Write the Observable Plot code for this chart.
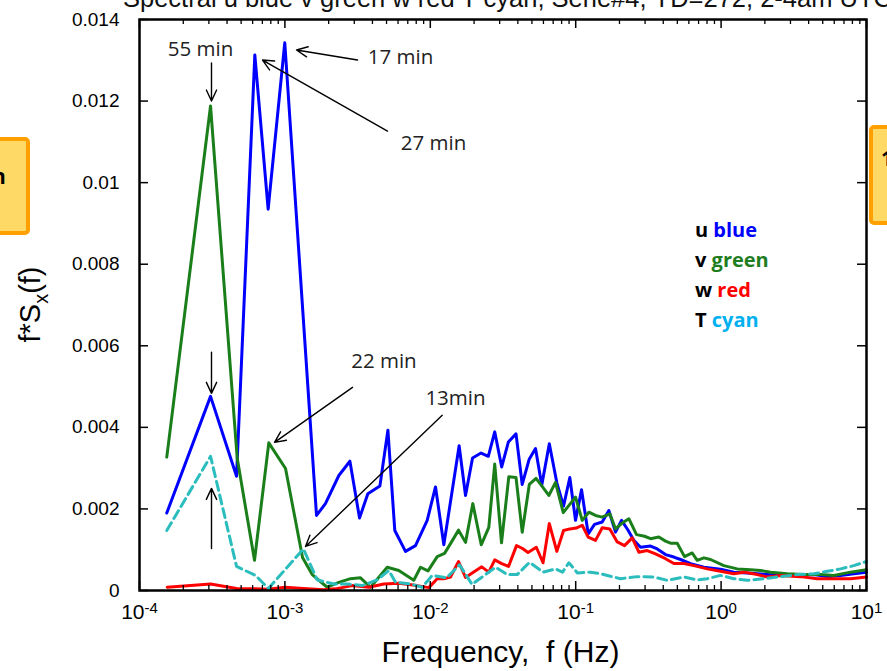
<!DOCTYPE html>
<html><head><meta charset="utf-8">
<script src="https://cdn.jsdelivr.net/npm/d3@7"></script>
<script src="https://cdn.jsdelivr.net/npm/@observablehq/plot@0.6"></script>
<style>
body{margin:0;background:#fff;}
#wrap{position:relative;width:887px;height:671px;overflow:hidden;background:#fff;}
.box{position:absolute;background:#FFD966;border:4px solid #FFA000;border-radius:5px;box-sizing:border-box;}
.boxtxt{position:absolute;font-family:'Open Sans',sans-serif;font-weight:bold;font-size:21px;color:#000;}
#legend{position:absolute;left:695px;top:215px;font-family:'Open Sans',sans-serif;font-weight:bold;font-size:20px;line-height:30px;color:#000;white-space:nowrap;}
</style></head><body>
<div id="wrap">
</div>
<script>
// ---- data (frequency in Hz, f*S_x(f)) ----
const blueF = [1.54e-4,3.08e-4,4.65e-4,6.21e-4,7.67e-4,9.98e-4,1.65e-3,1.90e-3,2.35e-3,2.80e-3,3.26e-3,3.72e-3,4.50e-3,5.11e-3,5.70e-3,6.75e-3,7.91e-3,9.52e-3,1.086e-2,1.239e-2,1.579e-2,1.747e-2,1.952e-2,2.233e-2,2.506e-2,2.774e-2,3.098e-2,3.441e-2,3.886e-2,4.287e-2,4.789e-2,5.293e-2,5.84e-2,6.585e-2,7.418e-2,8.249e-2,9.113e-2,9.97e-2,0.1097,0.1219,0.1347,0.1522,0.169,0.1879,0.2066,0.2282,0.2510,0.2792,0.3271,0.3637,0.4147,0.4731,0.526,0.6163,0.7608,0.991,1.223,1.513,2.077,2.564,3.34,4.342,5.37,6.63,8.18,10];
const blueV = [0.00190,0.00476,0.00280,0.01313,0.00935,0.01343,0.00184,0.00213,0.00282,0.00317,0.00178,0.00237,0.00256,0.00393,0.00147,0.00096,0.00110,0.00172,0.00254,0.00112,0.00355,0.00233,0.00325,0.00337,0.00329,0.00389,0.00303,0.00364,0.00384,0.00260,0.00322,0.00348,0.00258,0.00360,0.00264,0.00207,0.00277,0.00172,0.00247,0.00139,0.00162,0.00168,0.00196,0.00143,0.00172,0.00149,0.00123,0.00106,0.00109,0.00102,0.00088,0.00082,0.00076,0.00066,0.00057,0.00052,0.00045,0.00043,0.00039,0.00037,0.00037,0.00039,0.00034,0.00037,0.00041,0.00045];

const greenF = [1.54e-4,3.08e-4,4.70e-4,6.18e-4,7.75e-4,1.01e-3,1.322e-3,1.541e-3,1.954e-3,2.349e-3,2.828e-3,3.311e-3,3.88e-3,5.055e-3,6.074e-3,7.70e-3,8.566e-3,9.645e-3,1.116e-2,1.253e-2,1.377e-2,1.564e-2,1.747e-2,1.961e-2,2.24e-2,2.526e-2,2.774e-2,3.088e-2,3.468e-2,3.886e-2,4.287e-2,4.797e-2,5.335e-2,5.914e-2,6.534e-2,7.265e-2,8.21e-2,9.97e-2,0.1109,0.1231,0.1369,0.1522,0.1717,0.1879,0.2066,0.2320,0.2620,0.2974,0.3271,0.3731,0.4147,0.4489,0.4992,0.5603,0.633,0.685,0.7608,0.8459,1.044,1.291,1.594,1.867,2.188,2.85,3.707,4.831,5.963,7.77,10];
const greenV = [0.00327,0.01188,0.00324,0.00074,0.00362,0.00299,0.00081,0.00039,0.00008,0.00020,0.00029,0.00031,0.00008,0.00057,0.00049,0.00025,0.00057,0.00048,0.00083,0.00091,0.00115,0.00148,0.00118,0.00213,0.00112,0.00155,0.00310,0.00117,0.00279,0.00277,0.00143,0.00260,0.00275,0.00254,0.00233,0.00265,0.00191,0.00229,0.00172,0.00192,0.00184,0.00180,0.00188,0.00151,0.00164,0.00176,0.00137,0.00133,0.00127,0.00131,0.00121,0.00116,0.00116,0.00083,0.00092,0.00074,0.00080,0.00076,0.00061,0.00053,0.00051,0.00049,0.00045,0.00041,0.00039,0.00039,0.00037,0.00045,0.00051];

const redF = [1.55e-4,3.08e-4,4.65e-4,6.26e-4,7.7e-4,1.0e-3,1.34e-3,1.852e-3,2.229e-3,2.904e-3,3.777e-3,4.789e-3,6.074e-3,8.128e-3,9.77e-3,1.116e-2,1.253e-2,1.377e-2,1.564e-2,1.747e-2,1.977e-2,2.258e-2,2.526e-2,2.774e-2,3.098e-2,3.451e-2,3.917e-2,4.308e-2,4.699e-2,5.36e-2,5.962e-2,6.585e-2,7.418e-2,8.249e-2,9.113e-2,0.1008,0.1109,0.1219,0.1369,0.1522,0.1717,0.1930,0.2167,0.2448,0.2718,0.3104,0.3540,0.4147,0.4731,0.554,0.6495,0.8028,0.991,1.223,1.433,1.773,2.077,2.564,3.52,4.584,5.963,7.77,10];
const redV = [0.00008,0.00016,0.00005,0.00004,0.00003,0.00008,0.00005,0.00002,0.00004,0.00012,0.00008,0.00016,0.00018,0.00012,0.00007,0.00029,0.00029,0.00033,0.00071,0.00032,0.00045,0.00058,0.00045,0.00075,0.00066,0.00059,0.00110,0.00103,0.00093,0.00106,0.00068,0.00164,0.00096,0.00147,0.00151,0.00153,0.00160,0.00131,0.00123,0.00154,0.00151,0.00119,0.00110,0.00129,0.00094,0.00098,0.00090,0.00078,0.00066,0.00066,0.00061,0.00053,0.00047,0.00041,0.00045,0.00039,0.00033,0.00037,0.00034,0.00029,0.00029,0.00029,0.00033];

const cyanF = [1.54e-4,3.08e-4,4.65e-4,6.28e-4,7.7e-4,1.34e-3,1.668e-3,2.17e-3,2.683e-3,3.402e-3,4.315e-3,5.186e-3,5.766e-3,7.308e-3,8.8e-3,1.031e-2,1.293e-2,1.589e-2,1.936e-2,2.436e-2,2.81e-2,3.381e-2,3.961e-2,4.811e-2,5.962e-2,7.265e-2,8.12e-2,8.969e-2,0.1029,0.1265,0.1482,0.2034,0.2650,0.3446,0.4261,0.554,0.685,0.8028,0.991,1.223,1.513,1.968,2.564,3.34,4.342,5.37,6.63,8.18,10];
const cyanV = [0.00147,0.00329,0.00059,0.00037,0.00005,0.00102,0.00026,0.00016,0.00016,0.00012,0.00026,0.00049,0.00020,0.00016,0.00008,0.00037,0.00031,0.00063,0.00015,0.00041,0.00057,0.00039,0.00039,0.00069,0.00045,0.00053,0.00045,0.00068,0.00043,0.00045,0.00041,0.00029,0.00034,0.00033,0.00025,0.00033,0.00026,0.00029,0.00037,0.00029,0.00025,0.00029,0.00034,0.00039,0.00041,0.00047,0.00053,0.00061,0.00071];

// annotations (period labels)
const annoText = ["55 min","17 min","27 min","22 min","13min"];
const annoF = [2.63e-4, 6.24e-3, 1.052e-2, 4.80e-3, 1.49e-2];
const annoV = [0.01327, 0.01308, 0.01097, 0.00562, 0.00471];
// arrows (tail -> tip)
const arrowF1 = [3.127e-4, 3.158e-3, 5.078e-3, 2.917e-3, 1.208e-2, 3.127e-4, 3.127e-4];
const arrowV1 = [0.012933, 0.013006, 0.011264, 0.004982, 0.004294, 0.00584, 0.001031];
const arrowF2 = [3.127e-4, 1.202e-3, 7.015e-4, 8.484e-4, 1.386e-3, 3.127e-4, 3.127e-4];
const arrowV2 = [0.01200, 0.013252, 0.013006, 0.003632, 0.00108, 0.004834, 0.002503];

// ticks
const xTicks = [1e-4, 1e-3, 1e-2, 1e-1, 1, 10];
const xTickExp = ["-4", "-3", "-2", "-1", "0", "1"];
const yTicks = [0, 0.002, 0.004, 0.006, 0.008, 0.010, 0.012, 0.014];
const yTickLabels = ["0", "0.002", "0.004", "0.006", "0.008", "0.01", "0.012", "0.014"];

const legendKeys = ["u", "v", "w", "T"];
const legendNames = ["blue", "green", "red", "cyan"];
const legendColors = ["#0000FF", "#1E7D1E", "#FF0000", "#00B0F0"];

const titleText = "Spectral u blue v green w red T cyan, Serie#4, YD=272, 2-4am UTC";

// ---- build ----
const rows = (F, V) => F.slice(0, Math.min(F.length, V.length)).map((f, i) => ({f, v: V[i]}));
const annos = annoText.map((t, i) => ({t, f: annoF[i], v: annoV[i]}));
const arrows = arrowF1.map((d, i) => ({x1: d, y1: arrowV1[i], x2: arrowF2[i], y2: arrowV2[i]}));

const W = 887, H = 671, mL = 139, mR = 21, mT = 19, mB = 81;
const innerW = W - mL - mR, innerH = H - mT - mB;
const allLog = d3.scaleLog().domain([1e-4, 10]).ticks();
const minor = allLog.filter(d => !xTicks.some(t => Math.abs(t - d) / t < 1e-9));

const chart = Plot.plot({
  width: W, height: H,
  marginLeft: mL, marginRight: mR, marginTop: mT, marginBottom: mB,
  style: {fontFamily: "'Liberation Sans', Arial, sans-serif", fontSize: "19px", color: "black", background: "white", overflow: "visible"},
  x: {type: "log", domain: [1e-4, 10]},
  y: {domain: [0, 0.014]},
  marks: [
    Plot.line(rows(blueF, blueV), {x: "f", y: "v", stroke: "#0000FF", strokeWidth: 3}),
    Plot.line(rows(greenF, greenV), {x: "f", y: "v", stroke: "#1A7F1A", strokeWidth: 3}),
    Plot.line(rows(redF, redV), {x: "f", y: "v", stroke: "#FF0000", strokeWidth: 3}),
    Plot.line(rows(cyanF, cyanV), {x: "f", y: "v", stroke: "#2BBDBD", strokeWidth: 3, strokeDasharray: "9,5"}),
    Plot.arrow(arrows, {x1: "x1", y1: "y1", x2: "x2", y2: "y2", stroke: "black", strokeWidth: 1.4, headLength: 13, headAngle: 50}),
    Plot.text(annos, {x: "f", y: "v", text: "t", fontFamily: "'Open Sans', sans-serif", fontSize: 20.5, fill: "#222"}),
    Plot.ruleX(minor, {insetTop: innerH - 5, stroke: "black", strokeWidth: 1.3}),
    Plot.ruleX(minor, {insetBottom: innerH - 5, stroke: "black", strokeWidth: 1.3}),
    Plot.ruleX(xTicks, {insetTop: innerH - 9, stroke: "black", strokeWidth: 1.5}),
    Plot.ruleX(xTicks, {insetBottom: innerH - 9, stroke: "black", strokeWidth: 1.5}),
    Plot.ruleY(yTicks, {insetRight: innerW - 9, stroke: "black", strokeWidth: 1.5}),
    Plot.ruleY(yTicks, {insetLeft: innerW - 9, stroke: "black", strokeWidth: 1.5}),
    Plot.frame({stroke: "black", strokeWidth: 2.5}),
    Plot.axisX(xTicks, {tickSize: 0, tickPadding: 14, label: null, fontSize: 21,
      tickFormat: d => "10^" + xTickExp[xTicks.indexOf(d)]}),
    Plot.axisY(yTicks, {tickSize: 0, tickPadding: 20, label: null, fontSize: 19,
      tickFormat: d => yTickLabels[yTicks.indexOf(d)]})
  ]
});

const wrap = document.getElementById("wrap");
wrap.appendChild(chart);

// superscripts on x tick labels
const NS = "http://www.w3.org/2000/svg";
chart.querySelectorAll('g[aria-label="x-axis tick label"] text').forEach(t => {
  const parts = t.textContent.split("^");
  if (parts.length === 2) {
    t.textContent = parts[0];
    const ts = document.createElementNS(NS, "tspan");
    ts.setAttribute("dy", "-0.45em");
    ts.setAttribute("font-size", "15px");
    ts.textContent = parts[1];
    t.appendChild(ts);
  }
});

const svg = d3.select(chart);
// x label
svg.append("text")
  .attr("x", mL + innerW / 2 - 2).attr("y", H - 9)
  .attr("text-anchor", "middle")
  .attr("font-family", "'Liberation Sans', Arial, sans-serif")
  .attr("font-size", 30)
  .attr("fill", "black")
  .style("white-space", "pre")
  .text("Frequency,\u00A0 f (Hz)");
// y label
const yl = svg.append("text")
  .attr("transform", `translate(40,${mT + innerH / 2}) rotate(-90)`)
  .attr("text-anchor", "middle")
  .attr("font-family", "'Liberation Sans', Arial, sans-serif")
  .attr("font-size", 29)
  .attr("fill", "black");
yl.append("tspan").text("f*S");
yl.append("tspan").attr("font-size", 20).attr("dy", 8).text("x");
yl.append("tspan").attr("dy", -8).text("(f)");
// title (cut by top edge)
svg.append("text")
  .attr("x", 123).attr("y", 7)
  .attr("text-anchor", "start")
  .attr("font-family", "'Liberation Sans', Arial, sans-serif")
  .attr("font-size", 25.5)
  .attr("fill", "#111")
  .text(titleText);

// orange side boxes (from slide)
const b1 = document.createElement("div"); b1.className = "box";
Object.assign(b1.style, {left: "-12px", top: "137px", width: "42px", height: "98px"});
wrap.appendChild(b1);
const t1 = document.createElement("div"); t1.className = "boxtxt"; t1.textContent = "n";
Object.assign(t1.style, {left: "-8px", top: "162px"});
wrap.appendChild(t1);
const b2 = document.createElement("div"); b2.className = "box";
Object.assign(b2.style, {left: "869px", top: "125px", width: "40px", height: "100px"});
wrap.appendChild(b2);
const t2 = document.createElement("div"); t2.className = "boxtxt"; t2.textContent = "1";
Object.assign(t2.style, {left: "881px", top: "144px"});
wrap.appendChild(t2);

// legend text
const lg = document.createElement("div"); lg.id = "legend";
lg.innerHTML = legendKeys.map((k, i) =>
  `<div>${k} <span style="color:${legendColors[i]}">${legendNames[i]}</span></div>`).join("");
wrap.appendChild(lg);
</script>
</body></html>
